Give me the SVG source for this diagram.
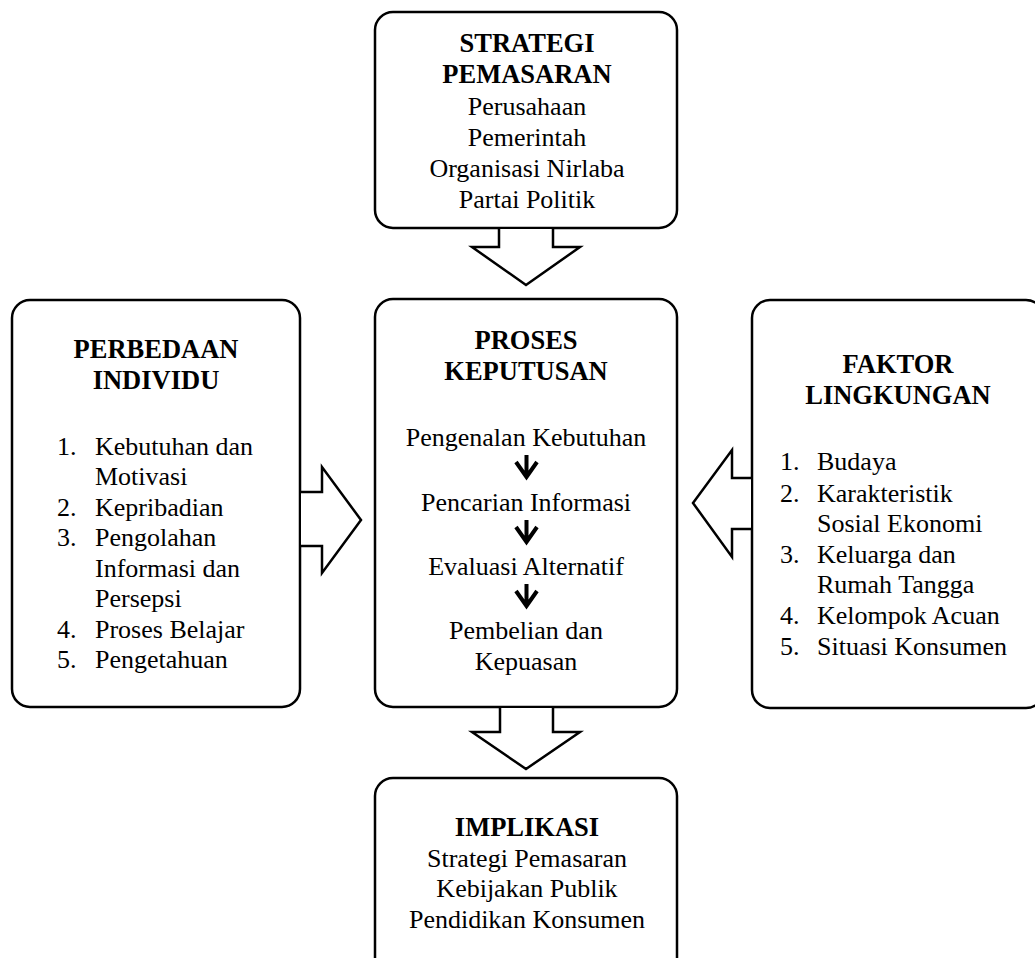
<svg xmlns="http://www.w3.org/2000/svg" width="1035" height="958" viewBox="0 0 1035 958">
<style>
.box{fill:#fff;stroke:#000;stroke-width:2.5}
.arr{fill:#fff;stroke:#000;stroke-width:2.5;stroke-linejoin:miter}
text{font-family:"Liberation Serif","Times New Roman",serif;font-size:26px;fill:#000}
.t{font-weight:bold;font-size:26.5px}
.c{text-anchor:middle}
.sa{fill:none;stroke:#000;stroke-width:4}
</style>
<rect width="1035" height="958" fill="#fff"/>
<g id="strategi">
<rect class="box" x="375" y="12" width="302" height="216" rx="18"/>
<text class="t c" x="527" y="52">STRATEGI</text>
<text class="t c" x="527" y="83">PEMASARAN</text>
<text class="c" x="527" y="115">Perusahaan</text>
<text class="c" x="527" y="146">Pemerintah</text>
<text class="c" x="527" y="177">Organisasi Nirlaba</text>
<text class="c" x="527" y="208">Partai Politik</text>
</g>
<g id="perbedaan">
<rect class="box" x="12" y="300" width="288" height="407" rx="18"/>
<text class="t c" x="156" y="358">PERBEDAAN</text>
<text class="t c" x="156" y="389">INDIVIDU</text>
<text x="57" y="455">1.</text><text x="95" y="455">Kebutuhan dan</text>
<text x="95" y="485">Motivasi</text>
<text x="57" y="516">2.</text><text x="95" y="516">Kepribadian</text>
<text x="57" y="546">3.</text><text x="95" y="546">Pengolahan</text>
<text x="95" y="577">Informasi dan</text>
<text x="95" y="607">Persepsi</text>
<text x="57" y="638">4.</text><text x="95" y="638">Proses Belajar</text>
<text x="57" y="668">5.</text><text x="95" y="668">Pengetahuan</text>
</g>
<g id="proses">
<rect class="box" x="375" y="299" width="302" height="408" rx="18"/>
<text class="t c" x="526" y="349">PROSES</text>
<text class="t c" x="526" y="380">KEPUTUSAN</text>
<text class="c" x="526" y="446">Pengenalan Kebutuhan</text>
<text class="c" x="526" y="511">Pencarian Informasi</text>
<text class="c" x="526" y="575">Evaluasi Alternatif</text>
<text class="c" x="526" y="639">Pembelian dan</text>
<text class="c" x="526" y="670">Kepuasan</text>
<path class="sa" d="M526.5 455V476M516 462L526.5 477L537 462"/>
<path class="sa" d="M526.5 520V541M516 527L526.5 542L537 527"/>
<path class="sa" d="M526.5 584V605M516 591L526.5 606L537 591"/>
</g>
<g id="faktor">
<rect class="box" x="752" y="300" width="292" height="408" rx="18"/>
<text class="t c" x="898" y="373">FAKTOR</text>
<text class="t c" x="898" y="404">LINGKUNGAN</text>
<text x="780" y="470">1.</text><text x="817" y="470">Budaya</text>
<text x="780" y="502">2.</text><text x="817" y="502">Karakteristik</text>
<text x="817" y="532">Sosial Ekonomi</text>
<text x="780" y="563">3.</text><text x="817" y="563">Keluarga dan</text>
<text x="817" y="593">Rumah Tangga</text>
<text x="780" y="624">4.</text><text x="817" y="624">Kelompok Acuan</text>
<text x="780" y="655">5.</text><text x="817" y="655">Situasi Konsumen</text>
</g>
<g id="implikasi">
<rect class="box" x="375" y="778" width="302" height="200" rx="18"/>
<text class="t c" x="527" y="836">IMPLIKASI</text>
<text class="c" x="527" y="867">Strategi Pemasaran</text>
<text class="c" x="527" y="897">Kebijakan Publik</text>
<text class="c" x="527" y="928">Pendidikan Konsumen</text>
</g>
<g id="connectors">
<polyline class="arr" points="499,229 499,247 472,247 526,285 580,247 553,247 553,229"/>
<polyline class="arr" points="500,708 500,732 472,732 526,769 580,732 553,732 553,708"/>
<polyline class="arr" points="301,492 322,492 322,467 361,520 322,573 322,546 301,546"/>
<polyline class="arr" points="751,478 732,478 732,450 693,503 732,557 732,529 751,529"/>
</g>
</svg>
